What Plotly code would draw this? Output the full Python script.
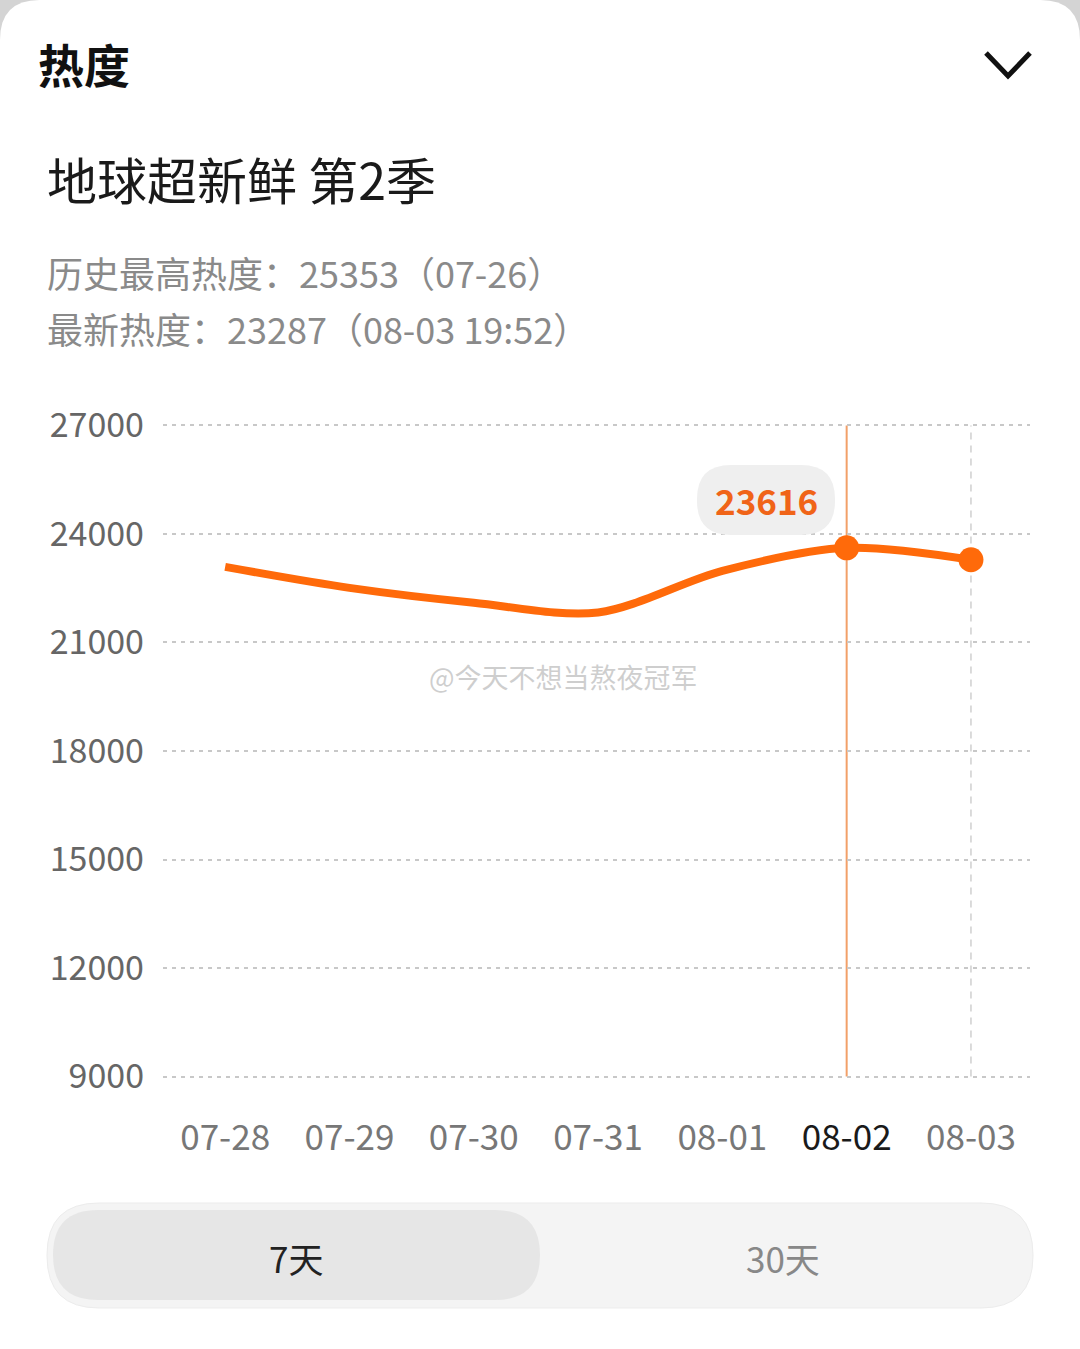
import plotly.graph_objects as go

# 热度数据（7天）
dates = ["07-28", "07-29", "07-30", "07-31", "08-01", "08-02", "08-03"]
heat = [23090, 22510, 22100, 21830, 22980, 23616, 23287]
y_ticks = [9000, 12000, 15000, 18000, 21000, 24000, 27000]
selected = "08-02"

header = "热度"
show_title = "地球超新鲜 第2季"
info_lines = ["历史最高热度：25353（07-26）", "最新热度：23287（08-03 19:52）"]
tabs = ["7天", "30天"]
watermark = "@今天不想当熬夜冠军"

W, H = 1080, 1349
L, R, T, B = 163, 1030, 424, 1078   # plot area in pixels
ORANGE = "#FF6A0A"
FONT = "Noto Sans CJK SC"


def px(x, y):
    # pixel -> paper coords
    return (x - L) / (R - L), (B - y) / (B - T)


def rounded(x0, y0, x1, y1, r, top_only=False):
    pts = []
    def p(x, y):
        a, b = px(x, y)
        return f"{a:.5f},{b:.5f}"
    rb = 0 if top_only else r
    pts.append(f"M{p(x0 + r, y0)}")
    pts.append(f"L{p(x1 - r, y0)}")
    pts.append(f"Q{p(x1, y0)} {p(x1, y0 + r)}")
    pts.append(f"L{p(x1, y1 - rb)}")
    if rb:
        pts.append(f"Q{p(x1, y1)} {p(x1 - rb, y1)}")
    pts.append(f"L{p(x0 + rb, y1)}")
    if rb:
        pts.append(f"Q{p(x0, y1)} {p(x0, y1 - rb)}")
    pts.append(f"L{p(x0, y0 + r)}")
    pts.append(f"Q{p(x0, y0)} {p(x0 + r, y0)}")
    return " ".join(pts) + " Z"


sel_i = dates.index(selected)
marker_sizes = [0] * (len(dates) - 2) + [25, 25]

fig = go.Figure()
fig.add_trace(go.Scatter(
    x=dates, y=heat,
    mode="lines+markers",
    line=dict(color=ORANGE, width=8, shape="spline", smoothing=0.9),
    marker=dict(size=marker_sizes, color=ORANGE, opacity=1, line=dict(width=0)),
    hoverinfo="skip",
    showlegend=False,
))

shapes = [
    # card background with rounded top
    dict(type="path", xref="paper", yref="paper", layer="below",
         path=rounded(0, 0, W, H + 40, 40, top_only=True),
         fillcolor="white", line=dict(width=0)),
    # selected day vertical line
    dict(type="line", xref="x", yref="y", x0=sel_i, x1=sel_i,
         y0=y_ticks[0], y1=y_ticks[-1], layer="below",
         line=dict(color="#F2A069", width=2)),
    # last day dashed line
    dict(type="line", xref="x", yref="y", x0=len(dates) - 1, x1=len(dates) - 1,
         y0=y_ticks[0], y1=y_ticks[-1], layer="below",
         line=dict(color="#d0d0d0", width=1.5, dash="7px,6px")),
    # tooltip bubble
    dict(type="path", xref="paper", yref="paper", layer="above",
         path=rounded(697, 465, 835, 535, 34),
         fillcolor="#efefef", line=dict(width=0)),
    # tab switch
    dict(type="path", xref="paper", yref="paper", layer="above",
         path=rounded(47, 1203, 1033, 1308, 52),
         fillcolor="#f4f4f4", line=dict(color="#ececec", width=1)),
    dict(type="path", xref="paper", yref="paper", layer="above",
         path=rounded(53, 1210, 540, 1300, 45),
         fillcolor="#e6e6e6", line=dict(width=0)),
]

# chevron
c = [px(986, 53), px(1008, 76), px(1030, 53)]
shapes.append(dict(type="path", xref="paper", yref="paper",
                   path=f"M{c[0][0]},{c[0][1]} L{c[1][0]},{c[1][1]} L{c[2][0]},{c[2][1]}",
                   line=dict(color="#111", width=5)))

annotations = []


def text(x, y, s, size, color, anchor="left", bold=False):
    a, b = px(x, y)
    annotations.append(dict(
        x=a, y=b, xref="paper", yref="paper", text=f"<b>{s}</b>" if bold else s,
        showarrow=False, xanchor=anchor, yanchor="middle",
        font=dict(family=FONT, size=size, color=color),
    ))


text(36, 63, header, 46, "#111", bold=True)
text(45, 178, show_title, 50, "#1a1a1a")
text(45, 272, info_lines[0], 36, "#8a8a8a")
text(45, 328, info_lines[1], 36, "#8a8a8a")
text(766, 499, f"{heat[sel_i]}", 35, "#F06418", anchor="center", bold=True)
text(563, 676, watermark, 27, "rgba(190,190,190,0.75)", anchor="center")
text(296, 1257, tabs[0], 35, "#222", anchor="center")
text(783, 1257, tabs[1], 35, "#888", anchor="center")

ticktext = [f"<span style='color:#1a1a1a'>{d}</span>" if d == selected else d for d in dates]

fig.update_layout(
    width=W, height=H,
    margin=dict(l=L, r=W - R, t=T, b=H - B),
    paper_bgcolor="#d4d4d4",
    plot_bgcolor="rgba(0,0,0,0)",
    shapes=shapes,
    annotations=annotations,
    font=dict(family=FONT),
    xaxis=dict(
        type="category", range=[-0.5, len(dates) - 0.525],
        tickvals=dates, ticktext=ticktext,
        showgrid=False, zeroline=False, showline=False, ticks="",
        tickfont=dict(size=35, color="#777"), ticklabelstandoff=36,
    ),
    yaxis=dict(
        range=[y_ticks[0] - 40, y_ticks[-1] + 40], tickvals=y_ticks,
        ticktext=[str(v) for v in y_ticks],
        showgrid=True, gridcolor="#c8c8c8", gridwidth=2, griddash="4px,5px",
        zeroline=False, showline=False, ticks="",
        tickfont=dict(size=34, color="#666"), ticklabelstandoff=18,
    ),
)

fig.write_html("out.html", config={"displayModeBar": False},
               post_script="document.body.style.margin='0';")
